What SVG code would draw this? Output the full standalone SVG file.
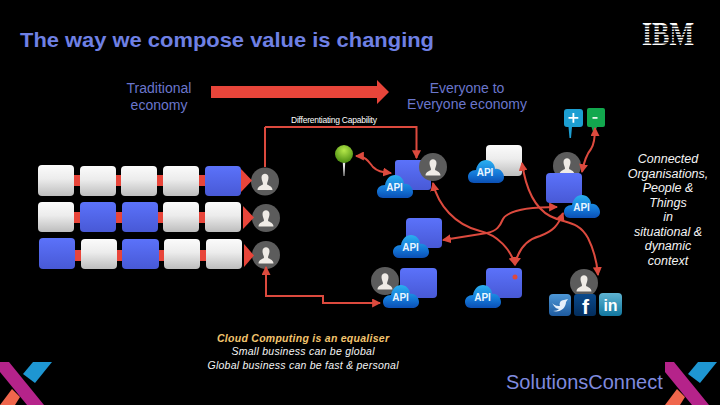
<svg xmlns="http://www.w3.org/2000/svg" width="720" height="405" viewBox="0 0 720 405">
<style>
text{font-family:"Liberation Sans",Arial,sans-serif}
.g{fill:url(#grey)}
.b{fill:url(#blue)}
.lk{fill:#e8453a}
.c{fill:none;stroke:#dc4a3e;stroke-width:2}
.ca{marker-end:url(#ah)}
.cb{marker-start:url(#ahs);marker-end:url(#ah)}
.api{fill:#e8f6ff;font-size:10px;font-weight:bold;text-anchor:middle}
.h{fill:#6a76cc;font-size:14px;text-anchor:middle}
.i{fill:#f4f4f4;font-size:10.5px;font-style:italic;text-anchor:middle}
.r{fill:#f4f4f4;font-size:12.5px;font-style:italic;text-anchor:middle}
</style>
<defs>
<linearGradient id="grey" x1="0" y1="0" x2="0" y2="1"><stop offset="0" stop-color="#fbfbfb"/><stop offset="0.45" stop-color="#ececec"/><stop offset="1" stop-color="#bdbdbd"/></linearGradient>
<linearGradient id="blue" x1="0" y1="0" x2="0" y2="1"><stop offset="0" stop-color="#5b72fa"/><stop offset="1" stop-color="#4859d6"/></linearGradient>
<linearGradient id="cl" x1="0" y1="0" x2="0" y2="1"><stop offset="0" stop-color="#2bb0f0"/><stop offset="0.6" stop-color="#1478d8"/><stop offset="1" stop-color="#0b4fb4"/></linearGradient>
<linearGradient id="tw" x1="0" y1="0" x2="0" y2="1"><stop offset="0" stop-color="#4d97d6"/><stop offset="1" stop-color="#1e5a9e"/></linearGradient>
<linearGradient id="fb" x1="0" y1="0" x2="0" y2="1"><stop offset="0" stop-color="#0a4a8c"/><stop offset="1" stop-color="#032d5c"/></linearGradient>
<linearGradient id="li" x1="0" y1="0" x2="0" y2="1"><stop offset="0" stop-color="#5fb4d2"/><stop offset="1" stop-color="#12779f"/></linearGradient>
<radialGradient id="pin" cx="0.5" cy="0.3" r="0.7"><stop offset="0" stop-color="#b5e84a"/><stop offset="1" stop-color="#4a8c10"/></radialGradient>
<marker id="ah" viewBox="0 0 8 8" refX="7" refY="4" markerWidth="9" markerHeight="9" markerUnits="userSpaceOnUse" orient="auto"><path d="M0 0L8 4L0 8Z" fill="#dc4a3e"/></marker>
<marker id="ahs" viewBox="0 0 8 8" refX="7" refY="4" markerWidth="9" markerHeight="9" markerUnits="userSpaceOnUse" orient="auto-start-reverse"><path d="M0 0L8 4L0 8Z" fill="#dc4a3e"/></marker>
<g id="person"><circle r="14" fill="#5c5c5c"/><path d="M-3.5 -4C-3.5 -9 3.5 -9 3.5 -4C3.5 -1 2 1 2 2.5C2 4 7.5 4 7.5 8.5L-7.5 8.5C-7.5 4 -2 4 -2 2.5C-2 1 -3.5 -1 -3.5 -4Z" fill="#efebe6"/></g>
<path id="cloud" d="M6 24C2 24 0 21 0 18C0 14 3 11 8 11C9 5 13 1 18 1C23 1 27 5 27 10C32 9 36 14 36 18C36 22 33 24 29 24Z" fill="url(#cl)"/>
</defs>
<rect width="720" height="405" fill="#000"/>

<g id="header">
<text x="20" y="47" fill="#6f80e4" font-size="20.5" font-weight="bold" textLength="414" lengthAdjust="spacingAndGlyphs">The way we compose value is changing</text>
<text class="h" x="159" y="93">Traditional</text><text class="h" x="159" y="110">economy</text>
<text class="h" x="467" y="93">Everyone to</text><text class="h" x="467" y="109">Everyone economy</text>
<path d="M211 86H377V80L389 92L377 104V98H211Z" fill="#e8453a"/>
<text x="334" y="123" fill="#fff" font-size="8.5" text-anchor="middle" textLength="86">Differentiating Capability</text>
</g>

<g id="ibm-logo">
<text x="642" y="45" fill="#fff" font-size="33" font-weight="bold" textLength="52" lengthAdjust="spacingAndGlyphs" style="font-family:'Liberation Serif',serif">IBM</text>
<g fill="#000"><rect x="640" y="25.4" width="56" height="1.3"/><rect x="640" y="28.2" width="56" height="1.3"/><rect x="640" y="31" width="56" height="1.3"/><rect x="640" y="33.8" width="56" height="1.3"/><rect x="640" y="36.600" width="56" height="1.3"/><rect x="640" y="39.400" width="56" height="1.3"/><rect x="640" y="42.200" width="56" height="1.3"/></g>
</g>

<g id="row1">
<g id="r1a"><rect class="g" x="38" y="165" width="36" height="31" rx="4"/></g>
<g id="r1b"><rect class="g" x="80" y="166" width="36" height="30" rx="4"/></g>
<g id="r1c"><rect class="g" x="121" y="166" width="36" height="30" rx="4"/></g>
<g id="r1d"><rect class="g" x="163" y="166" width="36" height="30" rx="4"/></g>
<g id="r1e"><rect class="b" x="205" y="166" width="36" height="30" rx="4"/></g>
</g>
<g id="row2">
<g id="r2a"><rect class="g" x="38" y="202" width="36" height="30" rx="4"/></g>
<g id="r2b"><rect class="b" x="80" y="202" width="36" height="30" rx="4"/></g>
<g id="r2c"><rect class="b" x="122" y="202" width="36" height="30" rx="4"/></g>
<g id="r2d"><rect class="g" x="163" y="202" width="36" height="30" rx="4"/></g>
<g id="r2e"><rect class="g" x="205" y="202" width="36" height="30" rx="4"/></g>
</g>
<g id="row3">
<g id="r3a"><rect class="b" x="39" y="238" width="36" height="31" rx="4"/></g>
<g id="r3b"><rect class="g" x="81" y="239" width="36" height="30" rx="4"/></g>
<g id="r3c"><rect class="b" x="122" y="239" width="37" height="30" rx="4"/></g>
<g id="r3d"><rect class="g" x="164" y="239" width="36" height="30" rx="4"/></g>
<g id="r3e"><rect class="g" x="206" y="239" width="36" height="30" rx="4"/></g>
</g>
<g id="person1"><use href="#person" x="265" y="181.5"/></g>
<g id="person2"><use href="#person" x="266" y="218"/></g>
<g id="person3"><use href="#person" x="266" y="255"/></g>

<g id="pin-node">
<path d="M342.6 160L345.4 160L344.4 176L343.6 176Z" fill="#e8e8e8"/>
<circle cx="344" cy="154" r="9" fill="url(#pin)"/>
</g>
<g id="nodeA"><rect class="b" x="395" y="160" width="36" height="30" rx="3"/><use href="#person" x="433" y="167"/><use href="#cloud" x="377" y="174"/><text class="api" x="394.5" y="191">API</text></g>
<g id="nodeB"><rect class="g" x="486" y="145" width="36" height="31" rx="4"/><use href="#cloud" x="468" y="159"/><text class="api" x="485" y="176">API</text></g>
<g id="nodeC"><use href="#person" x="567" y="166"/><rect class="b" x="546" y="173" width="36" height="30" rx="4"/><use href="#cloud" x="564" y="194"/><text class="api" x="581.5" y="211">API</text></g>
<g id="nodeD"><rect class="b" x="406" y="218" width="36" height="30" rx="4"/><use href="#cloud" x="393" y="234"/><text class="api" x="410.5" y="251">API</text></g>
<g id="nodeE"><rect class="b" x="400" y="268" width="37" height="30" rx="4"/><use href="#person" x="385" y="281"/><use href="#cloud" x="383" y="284"/><text class="api" x="400.5" y="301">API</text></g>
<g id="nodeF"><rect class="b" x="486" y="268" width="36" height="30" rx="4"/><use href="#cloud" x="465" y="284"/><text class="api" x="482.5" y="301">API</text></g>

<g id="plus"><path d="M568 109H580Q583 109 583 112V124Q583 127 580 127H572L571 138H569.5L568.5 127H567Q564 127 564 124V112Q564 109 567 109Z" fill="#1d9fd2"/><path d="M572.5 113h1.800v4h4v1.800h-4v4h-1.800v-4h-4v-1.800h4Z" fill="#fff"/></g>
<g id="minus"><path d="M589 108H603Q605 108 605 110V125Q605 127 603 127H597L594 135L591.500 127H589Q587 127 587 125V110Q587 108 589 108Z" fill="#12a84e"/><rect x="592.500" y="117" width="5" height="1.800" fill="#e8f5ec"/></g>

<g id="social">
<use href="#person" x="584" y="283"/>
<rect x="548" y="294" width="74" height="24" fill="#000"/>
<g id="twitter"><rect x="549" y="294" width="22" height="22" rx="4" fill="url(#tw)"/><path d="M552 303C555 306 558 306 560 306C559 304 560 300 564 300L568 299L566 302C566 308 560 313 553 311C556 311 558 310 559 309C556 309 554 306 552 303Z" fill="#e6f0fa"/></g>
<g id="facebook"><rect x="574" y="294" width="22" height="22" rx="3" fill="url(#fb)"/><text x="585.500" y="314" fill="#fff" font-size="21" font-weight="bold" text-anchor="middle">f</text></g>
<g id="linkedin"><rect x="599" y="293" width="23" height="23" rx="4" fill="url(#li)"/><text x="610.500" y="311" fill="#fff" font-size="16" font-weight="bold" text-anchor="middle">in</text></g>
</g>

<g id="connectors">
<g class="lk">
<rect x="74" y="175" width="6" height="11"/><rect x="116" y="175" width="5" height="11"/><rect x="157" y="175" width="6" height="11"/><rect x="199" y="175" width="6" height="11"/><path d="M241 169L252 180.500L241 192Z"/>
<rect x="74" y="212" width="6" height="11"/><rect x="116" y="212" width="6" height="11"/><rect x="158" y="212" width="5" height="11"/><rect x="199" y="212" width="6" height="11"/><path d="M243 206L254 217.500L243 229Z"/>
<rect x="75" y="250" width="6" height="11"/><rect x="117" y="250" width="5" height="11"/><rect x="159" y="250" width="5" height="11"/><rect x="200" y="250" width="6" height="11"/><path d="M244 244L254 255.500L244 267Z"/>
</g>
<path class="c ca" d="M265 127V167M265 127H416.500V158"/>
<path class="c cb" d="M266 267V296H323V303H380"/>
<path class="c cb" d="M356 156C366 156 369 162 373 167C378 172 383 172 391 173"/>
<path class="c cb" d="M433 183C438 205 455 225 480 231C498 235 511 250 515 265"/>
<path class="c cb" d="M443 240L487 233C497 231 500 226 503 219C508 210 530 207 557 207"/>
<path class="c cb" d="M522 163C526 190 535 208 550 216C565 224 578 220 588 238C594 250 597 263 598 275"/>
<path class="c cb" d="M563 213C558 226 553 231 540 236C525 240 518 250 515 265"/>
<path class="c cb" d="M582 172C584 162 586 155 591 149C595 143 595 135 595 128"/>
<circle cx="515" cy="277" r="2.500" fill="#dc4a3e"/>
</g>

<g id="notes">
<text x="303" y="342" fill="#f3c56e" font-size="10.500" font-style="italic" font-weight="bold" text-anchor="middle" textLength="172">Cloud Computing is an equaliser</text>
<text class="i" x="303" y="355" textLength="143">Small business can be global</text>
<text class="i" x="303" y="369" textLength="191">Global business can be fast &amp; personal</text>
<text class="r" x="668" y="163">Connected</text>
<text class="r" x="668" y="177.500">Organisations,</text>
<text class="r" x="668" y="192">People &amp;</text>
<text class="r" x="668" y="206.500">Things</text>
<text class="r" x="668" y="221">in</text>
<text class="r" x="668" y="235.500">situational &amp;</text>
<text class="r" x="668" y="250">dynamic</text>
<text class="r" x="668" y="264.500">context</text>
<text x="506" y="389" fill="#7f8ade" font-size="20">SolutionsConnect</text>
</g>

<g id="logo-left">
<path d="M0 362H9L44 405H27L0 372Z" fill="#b5238a"/>
<path d="M33 362H52L35 383L23 374Z" fill="#1e96d2"/>
<path d="M12 389L20 397L15 405H0Z" fill="#f0664c"/>
</g>
<g id="logo-right">
<path d="M665 362H674L709 405H692L665 372Z" fill="#b5238a"/>
<path d="M698 362H717L700 383L688 374Z" fill="#1e96d2"/>
<path d="M677 389L685 397L680 405H665Z" fill="#f0664c"/>
</g>
</svg>
